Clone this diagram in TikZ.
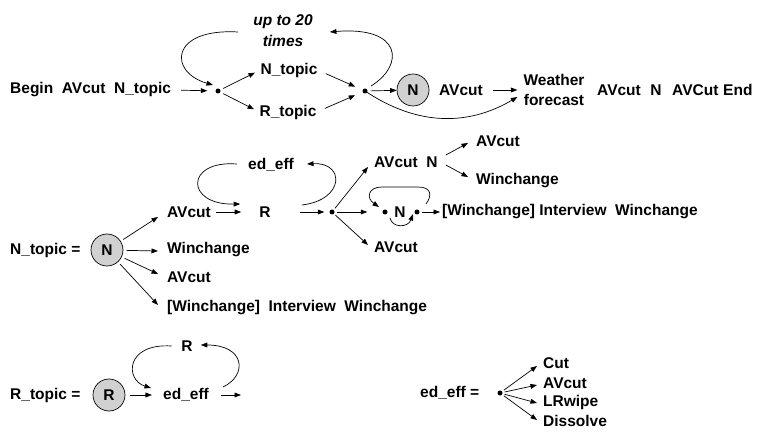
\documentclass[tikz,border=0pt]{standalone}
\usepackage{fontspec}
\setmainfont{Liberation Sans}
\usetikzlibrary{arrows.meta}
\begin{document}
\begin{tikzpicture}[x=1pt,y=-1pt,
  every node/.style={font=\bfseries\fontsize{15.5}{20}\selectfont},
  txt/.style={inner sep=0pt},
  arr/.style={-{Triangle[length=6.5pt,width=4.8pt]}, line width=0.7pt},
  dot/.style={circle, fill, inner sep=0pt, minimum size=5pt},
  bigc/.style={circle, draw, line width=0.7pt, fill=black!18, minimum size=32pt, inner sep=0pt}]
\useasboundingbox (0,0) rectangle (757,435);

% ---------------- Row 1 ----------------
\node[txt, anchor=west] (begin) at (10,90) {Begin~~AVcut~~N\_topic};
\node[dot] (d1) at (218,91) {};
\node[txt] (nt) at (289,70) {N\_topic};
\node[txt] (rt) at (288,112) {R\_topic};
\node[txt, align=center, font=\bfseries\itshape\fontsize{15.5}{21}\selectfont] (upto) at (283,31) {up to 20\\times};
\node[dot] (d2) at (365,91) {};
\node[bigc] (n1) at (413,90) {N};
\node[txt] (av1) at (461,90) {AVcut};
\node[txt, align=center] (wf) at (554,90) {Weather\\forecast};
\node[txt, anchor=west] (av2) at (597,90) {AVcut};
\node[txt] (nn) at (656,90) {N};
\node[txt, anchor=west] (avc) at (672,90) {AVCut};
\node[txt, anchor=west] (endn) at (723,90) {End};

\draw[arr, shorten <=10pt, shorten >=8pt] (begin.east) -- (d1);
\draw[arr, shorten <=3pt, shorten >=6pt] (d1) -- (nt.west);
\draw[arr, shorten <=3pt, shorten >=6pt] (d1) -- (rt.west);
\draw[arr, shorten <=9pt, shorten >=8pt] (nt.east) -- (d2);
\draw[arr, shorten <=9pt, shorten >=8pt] (rt.east) -- (d2);
\draw[arr, shorten <=3pt] (d2) -- (n1);
\draw[arr, shorten <=10pt, shorten >=6pt] (av1.east) -- (wf.west);
\draw[arr] (d2) .. controls (425,130) and (475,122) .. ([xshift=-6pt,yshift=-7pt]wf.west);
\draw[arr] ([xshift=-15pt,yshift=-1pt]upto.west) .. controls (170,28) and (168,72) .. ([xshift=-5pt,yshift=6pt]d1.center);
\draw[arr] ([xshift=6pt,yshift=5pt]d2.center) .. controls (405,65) and (402,26) .. ([xshift=17pt,yshift=-1pt]upto.east);

% ---------------- Row 2 ----------------
\node[txt, anchor=west] (ntop) at (10,250) {N\_topic =};
\node[bigc] (n2) at (107,250) {N};
\node[txt, anchor=west] (a1) at (167,212) {AVcut};
\node[txt, anchor=west] (w1) at (167,250) {Winchange};
\node[txt, anchor=west] (a2) at (167,277) {AVcut};
\node[txt, anchor=west] (wiw1) at (167,308) {[Winchange]~~Interview~~Winchange};

\draw[arr, shorten <=3pt] (n2) -- ([xshift=-9pt,yshift=-5pt]a1.west);
\draw[arr, shorten <=3pt] (n2) -- ([xshift=-9pt,yshift=-1pt]w1.west);
\draw[arr, shorten <=3pt] (n2) -- ([xshift=-9pt,yshift=3pt]a2.west);
\draw[arr, shorten <=3pt] (n2) -- ([xshift=-9pt,yshift=3pt]wiw1.west);

\node[txt] (r1) at (265,212) {R};
\node[txt] (ee1) at (271,165) {ed\_eff};
\node[dot] (d3) at (332,212) {};
\draw[arr, shorten <=5pt, shorten >=18pt] (a1.east) -- (r1.west);
\draw[arr] ([xshift=-11pt,yshift=1pt]ee1.west) .. controls (185,160) and (185,205) .. ([xshift=-19pt,yshift=8pt]r1.west);
\draw[arr] ([xshift=31pt,yshift=7pt]r1.east) .. controls (345,200) and (345,162) .. ([xshift=13pt,yshift=1pt]ee1.east);
\draw[arr, shorten <=29pt, shorten >=5pt] (r1.east) -- (d3);

\node[txt, anchor=west] (avn) at (374,162) {AVcut~~N};
\node[dot] (d4) at (385,212) {};
\node[txt] (n3) at (400,212) {N};
\node[dot] (d5) at (417,212) {};
\node[txt, anchor=west] (a3) at (374,247) {AVcut};
\node[txt, anchor=west] (wiw2) at (442,212) {[Winchange] Interview~~Winchange};
\node[txt, anchor=west] (a4) at (476,141) {AVcut};
\node[txt, anchor=west] (w2) at (476,181) {Winchange};

\draw[arr, shorten <=2pt] (d3) -- ([xshift=-6pt,yshift=-5pt]avn.west);
\draw[arr, shorten <=2pt, shorten >=15pt] (d3) -- (d4);
\draw[arr, shorten <=2pt] (d3) -- ([xshift=-6pt,yshift=2pt]a3.west);
\draw[arr] ([xshift=9pt,yshift=8pt]d5.center) .. controls (432,196) and (432,187) .. (418,187) -- (382,187) .. controls (368,187) and (366,198) .. ([xshift=-6pt,yshift=5pt]d4.center);
\draw[arr] ([xshift=5pt,yshift=-6pt]d4.center) .. controls (392,228) and (408,228) .. ([xshift=-4pt,yshift=-2pt]d5.center);
\draw[arr, shorten <=2pt, shorten >=2pt] (d5) -- (wiw2.west);
\draw[arr] ([xshift=8pt,yshift=7pt]avn.east) -- ([xshift=-8pt,yshift=-2pt]a4.west);
\draw[arr] ([xshift=8pt,yshift=-3pt]avn.east) -- ([xshift=-8pt,yshift=4pt]w2.west);

% ---------------- Row 3 ----------------
\node[txt, anchor=west] (rtop) at (10,395) {R\_topic =};
\node[bigc] (r2) at (109,395) {R};
\node[txt] (ee2) at (186,395) {ed\_eff};
\node[txt] (r3) at (187,346) {R};
\coordinate (fe) at (241,395);

\draw[arr, shorten <=5pt, shorten >=11pt] (r2) -- (ee2.west);
\draw[arr] ([xshift=-9.5pt]r3.west) .. controls (125,343) and (125,380) .. ([xshift=-12pt,yshift=7pt]ee2.west);
\draw[arr] ([xshift=14pt,yshift=8pt]ee2.east) .. controls (248,375) and (245,345) .. ([xshift=8pt,yshift=1pt]r3.east);
\draw[arr, shorten <=12pt] (ee2.east) -- (fe);

\node[txt, anchor=west] (eeq) at (420,393) {ed\_eff =};
\node[dot] (d6) at (500,393) {};
\node[txt, anchor=west] (cut) at (543,363) {Cut};
\node[txt, anchor=west] (av5) at (543,383) {AVcut};
\node[txt, anchor=west] (lr) at (543,402) {LRwipe};
\node[txt, anchor=west] (dis) at (543,421) {Dissolve};

\draw[arr, shorten <=2pt] (d6) -- ([xshift=-6pt,yshift=-3pt]cut.west);
\draw[arr, shorten <=2pt] (d6) -- ([xshift=-6pt,yshift=-2pt]av5.west);
\draw[arr, shorten <=2pt] (d6) -- ([xshift=-6pt,yshift=-1pt]lr.west);
\draw[arr, shorten <=2pt] (d6) -- ([xshift=-6pt,yshift=1pt]dis.west);
\end{tikzpicture}
\end{document}
